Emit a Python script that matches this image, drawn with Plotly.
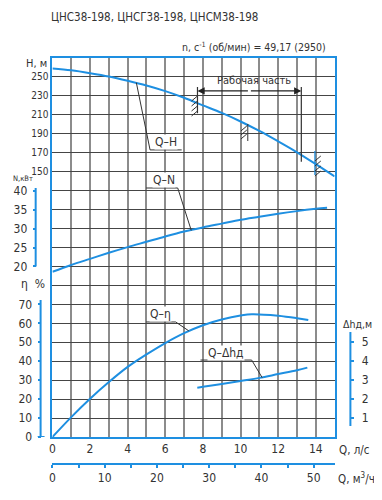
import plotly.graph_objects as go

# ---------------- data ----------------
title_text = "ЦНС38-198, ЦНСГ38-198, ЦНСМ38-198"
speed_text = "n, c<sup>-1</sup> (об/мин) = 49,17 (2950)"

q_h = [0, 1, 2, 3, 4, 5, 6, 7, 8, 9, 10, 11, 12, 13, 14, 15]
h_vals = [259, 257, 254, 250.5, 246, 241, 235, 228, 220, 212, 203, 193, 182, 170.5, 158, 145]

q_n = [0, 1, 2, 3, 4, 5, 6, 7, 8, 9, 10, 11, 12, 13, 14, 14.6]
n_vals = [18.6, 20.4, 22.0, 23.6, 25.1, 26.5, 27.9, 29.2, 30.3, 31.3, 32.3, 33.1, 33.9, 34.6, 35.2, 35.5]

q_eta = [0, 1, 2, 3, 4, 5, 6, 7, 8, 9, 10, 10.6, 12, 13, 13.6]
eta_vals = [0, 10.5, 20.2, 29.0, 37.0, 43.6, 49.6, 54.8, 59.0, 62.0, 64.1, 64.8, 64.0, 62.7, 61.7]

q_dh = [7.7, 8, 9, 10, 11, 12, 13, 13.55]
dh_vals = [2.6, 2.65, 2.8, 2.96, 3.12, 3.32, 3.52, 3.66]

q_ticks = [0, 2, 4, 6, 8, 10, 12, 14]
m3_ticks = [0, 10, 20, 30, 40, 50]
h_ticks = [150, 170, 190, 210, 230, 250]
n_ticks = [20, 25, 30, 35, 40]
eta_ticks = [0, 10, 20, 30, 40, 50, 60, 70]
dh_ticks = [1, 2, 3, 4, 5]

work_q = [7.71, 13.23]   # working part limits, l/s
M3H_PER_LS = 3.6

# ---------------- styling / layout helpers ----------------
BLUE = "#1E8FE1"
INK = "#333333"
FONT = "Liberation Sans Narrow, DejaVu Sans Condensed, Roboto Condensed, Liberation Sans, sans-serif"
OFF = 8                      # page body margin
W, H = 374, 492
ML, MR, MT, MB = 0, 0, 50, 14
PW, PH = W - ML - MR, H - MT - MB
PB = OFF + H - MB            # screen y of paper bottom


def px(x):
    return (x - OFF - ML) / PW


def py(y):
    return (PB - y) / PH


Q_MAX = 15
H_RANGE = [-130, 270]
N_RANGE = [-25, 75]
ETA_RANGE = [0, 200]
DH_RANGE = [0, 20]

fig = go.Figure()

for xs, ys, ya in [(q_h, h_vals, "y"), (q_n, n_vals, "y2"), (q_eta, eta_vals, "y3"), (q_dh, dh_vals, "y4")]:
    fig.add_trace(go.Scatter(x=xs, y=ys, mode="lines", line=dict(color=BLUE, width=2, shape="spline"),
                             xaxis="x", yaxis=ya, hoverinfo="skip"))

# same Q-H curve in m3/h units (transparent) so that the m3/h axis is drawn
fig.add_trace(go.Scatter(x=[q * M3H_PER_LS for q in q_h], y=h_vals, mode="lines",
                         line=dict(color="rgba(0,0,0,0)", width=0), xaxis="x2", yaxis="y",
                         hoverinfo="skip"))

x_grid = list(range(0, Q_MAX + 1))
x_text = [str(v) if v in q_ticks else " " for v in x_grid]
h_grid = list(range(H_RANGE[0], H_RANGE[1] + 1, 20))
h_text = [str(v) if v in h_ticks else " " for v in h_grid]
m3_grid = list(range(0, 55, 5))
m3_text = [str(v) if v in m3_ticks else " " for v in m3_grid]

tickfont = dict(family=FONT, size=12, color=INK)

fig.update_layout(
    width=W, height=H,
    margin=dict(l=ML, r=MR, t=MT, b=MB),
    paper_bgcolor="white", plot_bgcolor="white",
    showlegend=False,
    xaxis=dict(domain=[px(50), px(336)], range=[0, Q_MAX], tickmode="array",
               tickvals=x_grid, ticktext=x_text, showgrid=True, gridcolor="#8c8c8c", gridwidth=1.5,
               showline=True, linecolor=BLUE, linewidth=2, mirror=True, zeroline=False,
               ticks="", tickfont=tickfont),
    xaxis2=dict(overlaying="x", anchor="free", position=py(463.7), range=[0, Q_MAX * M3H_PER_LS],
                tickmode="array", tickvals=m3_grid, ticktext=m3_text, showgrid=False, zeroline=False,
                showline=True, linecolor=BLUE, linewidth=2, ticks="outside", ticklen=3,
                tickcolor=BLUE, tickwidth=1.5, tickfont=tickfont, side="bottom"),
    yaxis=dict(domain=[py(437), 1], range=H_RANGE, tickmode="array", tickvals=h_grid, ticktext=h_text,
               showgrid=True, gridcolor="#454545", gridwidth=1.2, showline=True, linecolor=BLUE,
               linewidth=2, mirror=True, zeroline=False, ticks="",
               tickfont=dict(family=FONT, size=10, color=INK), ticklabelstandoff=0),
    yaxis2=dict(overlaying="y", anchor="free", position=px(33), side="left", range=N_RANGE,
                tickmode="array", tickvals=n_ticks, showgrid=False, zeroline=False, showline=False,
                ticks="outside", ticklen=3, tickcolor=BLUE, tickwidth=1.5, tickfont=tickfont,
                ticklabelstandoff=3),
    yaxis3=dict(overlaying="y", anchor="free", position=px(38), side="left", range=ETA_RANGE,
                tickmode="array", tickvals=eta_ticks, showgrid=False, zeroline=False, showline=False,
                ticks="outside", ticklen=3, tickcolor=BLUE, tickwidth=1.5, tickfont=tickfont,
                ticklabelstandoff=3),
    yaxis4=dict(overlaying="y", anchor="free", position=px(352), side="right", range=DH_RANGE,
                tickmode="array", tickvals=dh_ticks, showgrid=False, zeroline=False, showline=False,
                ticks="outside", ticklen=3, tickcolor=BLUE, tickwidth=1.5, tickfont=tickfont,
                ticklabelstandoff=5),
)

shapes = []
# partial axis lines
shapes.append(dict(type="line", xref="paper", yref="y2", x0=px(33), x1=px(33), y0=n_ticks[0], y1=40.7,
                   line=dict(color=BLUE, width=2)))
shapes.append(dict(type="line", xref="paper", yref="y3", x0=px(38), x1=px(38), y0=eta_ticks[0], y1=72.3,
                   line=dict(color=BLUE, width=2)))
shapes.append(dict(type="line", xref="paper", yref="y3", x0=px(35), x1=px(42), y0=0, y1=0,
                   line=dict(color=BLUE, width=2)))
shapes.append(dict(type="line", xref="paper", yref="y4", x0=px(352), x1=px(352), y0=0.58, y1=5.54,
                   line=dict(color=BLUE, width=2)))

# white box behind working-part caption
shapes.append(dict(type="rect", xref="paper", yref="paper", x0=px(203), x1=px(297), y0=py(88), y1=py(68),
                   fillcolor="white", line=dict(width=0), layer="between"))

# working part vertical limits
shapes.append(dict(type="line", xref="x", yref="y", x0=work_q[0], x1=work_q[0], y0=211.6, y1=239.4,
                   line=dict(color=INK, width=1.2)))
shapes.append(dict(type="line", xref="x", yref="y", x0=work_q[1], x1=work_q[1], y0=160.5, y1=239.4,
                   line=dict(color=INK, width=1.2)))


def seg(x0, y0, x1, y1, color=INK, w=1):
    return dict(type="line", xref="paper", yref="paper", x0=px(x0), y0=py(y0), x1=px(x1), y1=py(y1),
                line=dict(color=color, width=w))


# hatch marks
for yy in [96, 101, 106, 111]:
    shapes.append(seg(191, yy + 5, 197, yy))
shapes.append(seg(248, 124, 248, 141))
for yy in [126, 130, 134]:
    shapes.append(seg(241, yy + 5, 247, yy))
shapes.append(seg(316, 151, 316, 175, color=BLUE, w=1.2))
for yy in [156, 161, 166, 171]:
    shapes.append(seg(316, yy + 5, 322, yy))

# label underlines and leaders
shapes.append(dict(type="line", xref="x", yref="y", x0=5.19, x1=6.87, y0=173, y1=173, line=dict(color=INK, width=1)))
shapes.append(dict(type="line", xref="x", yref="y", x0=5.19, x1=4.46, y0=173, y1=244, line=dict(color=INK, width=1)))
shapes.append(dict(type="line", xref="x", yref="y2", x0=4.98, x1=6.66, y0=40.7, y1=40.7, line=dict(color=INK, width=1)))
shapes.append(dict(type="line", xref="x", yref="y2", x0=6.66, x1=7.38, y0=40.7, y1=29.5, line=dict(color=INK, width=1)))
shapes.append(dict(type="line", xref="x", yref="y3", x0=4.98, x1=6.55, y0=60.7, y1=60.7, line=dict(color=INK, width=1)))
shapes.append(dict(type="line", xref="x", yref="y3", x0=6.55, x1=7.25, y0=60.7, y1=56.0, line=dict(color=INK, width=1)))
shapes.append(dict(type="line", xref="x", yref="y4", x0=7.87, x1=10.59, y0=4.06, y1=4.06, line=dict(color=INK, width=1)))
shapes.append(dict(type="line", xref="x", yref="y4", x0=10.59, x1=11.15, y0=4.06, y1=3.13, line=dict(color=INK, width=1)))

fig.update_layout(shapes=shapes)

ann = []


def txt(x, y, s, size=12, xanchor="center", bg=None):
    d = dict(xref="paper", yref="paper", x=px(x), y=py(y), text=s, showarrow=False,
             font=dict(family=FONT, size=size, color=INK), xanchor=xanchor, yanchor="middle")
    if bg:
        d["bgcolor"] = bg
        d["borderpad"] = 0
    return d


ann.append(txt(47, 17, title_text, size=11.5, xanchor="left"))
ann.append(txt(329, 46, speed_text, size=10.5, xanchor="right"))
ann.append(txt(47, 63, "H, м", size=11, xanchor="right"))
ann.append(txt(8.2, 178, "N,кВт", size=7.5, xanchor="left"))
ann.append(txt(30, 284, "η  %"))
ann.append(txt(359, 324, "Δhд,м", size=10.5))
ann.append(txt(338, 450, "Q, л/с", size=11.5, xanchor="left"))
ann.append(txt(337, 478, "Q, м<sup>3</sup>/ч", size=11.5, xanchor="left"))
ann.append(txt(165, 142, "Q–H", bg="white"))
ann.append(txt(163, 180, "Q–N", bg="white"))
ann.append(txt(160, 314, "Q–η", bg="white"))
ann.append(txt(226, 353, "Q–Δhд", bg="white"))
ann.append(txt(254, 81, "Рабочая часть", size=11))

# working part arrow (two half-arrows from the centre)
mid = (work_q[0] + work_q[1]) / 2
for q_end in work_q:
    ann.append(dict(xref="x", yref="y", x=q_end, y=235.2, ax=mid, ay=235.2, axref="x", ayref="y",
                    text="", showarrow=True, arrowhead=2, arrowsize=1.2, arrowwidth=1.2,
                    arrowcolor="#222222", standoff=0))

fig.update_layout(annotations=ann)

fig.write_html("out.html")
